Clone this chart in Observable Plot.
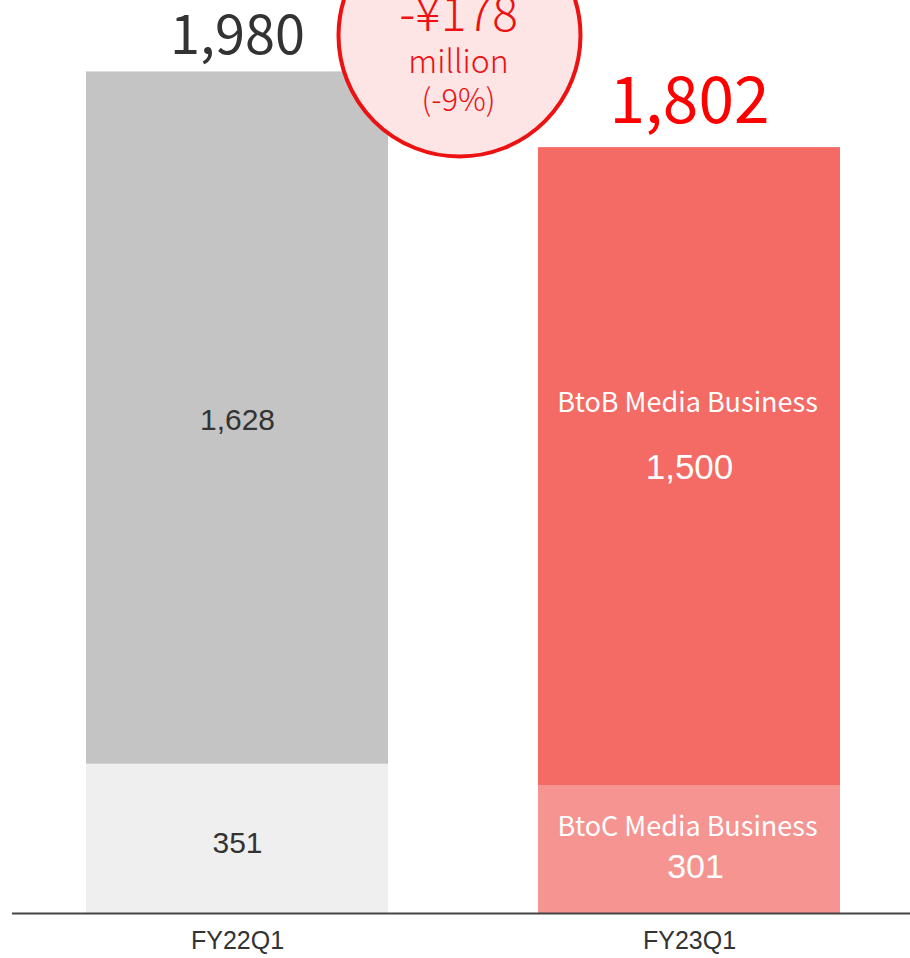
<!DOCTYPE html>
<html>
<head>
<meta charset="utf-8">
<script src="https://cdn.jsdelivr.net/npm/d3@7"></script>
<script src="https://cdn.jsdelivr.net/npm/@observablehq/plot@0.6"></script>
<style>
  html, body { margin: 0; padding: 0; background: #fff; }
  #chart svg { display: block; }
</style>
</head>
<body>
<div id="chart"></div>
<script>
// ---- data ----
const periods = ["FY22Q1", "FY23Q1"];
const segments = ["BtoC Media Business", "BtoB Media Business"];
const btocValues = [351, 301];
const btobValues = [1628, 1500];
const totals = [1980, 1802];
const totalLabels = ["1,980", "1,802"];
const btocLabels = ["351", "301"];
const btobLabels = ["1,628", "1,500"];
const changeLines = ["-¥178", "million", "(-9%)"];

// ---- styles ----
const fillFor = {
  "FY22Q1|BtoC Media Business": "#efefef",
  "FY22Q1|BtoB Media Business": "#c4c4c4",
  "FY23Q1|BtoC Media Business": "#f69491",
  "FY23Q1|BtoB Media Business": "#f46a64"
};
const JP = "'Noto Sans CJK JP', 'Noto Sans', sans-serif";
const ARIAL = "'Liberation Sans', Arial, sans-serif";

// ---- derived table ----
const rows = [];
periods.forEach((p, i) => {
  rows.push({period: p, segment: segments[0], y1: 0, y2: btocValues[i], label: btocLabels[i]});
  rows.push({period: p, segment: segments[1], y1: btocValues[i], y2: btocValues[i] + btobValues[i], label: btobLabels[i]});
});
rows.forEach(r => { r.mid = (r.y1 + r.y2) / 2; r.key = r.period + "|" + r.segment; });
const totRows = periods.map((p, i) => ({period: p, total: totals[i], label: totalLabels[i]}));

const oldB = rows.filter(r => r.period === periods[0] && r.segment === segments[1]);
const oldC = rows.filter(r => r.period === periods[0] && r.segment === segments[0]);
const curB = rows.filter(r => r.period === periods[1] && r.segment === segments[1]);
const curC = rows.filter(r => r.period === periods[1] && r.segment === segments[0]);

const chart = Plot.plot({
  width: 910,
  height: 958,
  marginLeft: 12,
  marginRight: 0,
  marginTop: 0,
  marginBottom: 0,
  x: {domain: periods, range: [86, 840], paddingInner: 0.332, paddingOuter: 0, axis: null},
  y: {domain: [0, 1980], range: [913, 71], axis: null},
  marks: [
    Plot.barY(rows, {x: "period", y1: "y1", y2: "y2", fill: d => fillFor[d.key], inset: 0}),
    Plot.ruleY([0], {stroke: "#444", strokeWidth: 2}),
    // category labels under the baseline
    Plot.text(periods, {x: d => d, y: () => 0, text: d => d, dy: 27, fill: "#333", fontSize: 25,
      fontFamily: "'Liberation Sans Narrow', 'Arial Narrow', " + ARIAL}),
    // FY22 inner labels
    Plot.text(oldB, {x: "period", y: "mid", text: "label", fill: "#333", fontSize: 30, fontFamily: ARIAL, dy: 2}),
    Plot.text(oldC, {x: "period", y: "mid", text: "label", fill: "#333", fontSize: 30, fontFamily: ARIAL, dy: 5}),
    // FY23 values
    Plot.text(curB, {x: "period", y: "mid", text: "label", fill: "#fff", fontSize: 35, fontFamily: ARIAL, dy: 1}),
    Plot.text(curB, {x: "period", y: "mid", text: "segment", fill: "#fff", fontSize: 27, fontFamily: JP, dy: -63, dx: -2}),
    Plot.text(curC, {x: "period", y: "mid", text: "label", fill: "#fff", fontSize: 34, fontFamily: ARIAL, dy: 18, dx: 6}),
    Plot.text(curC, {x: "period", y: "mid", text: "segment", fill: "#fff", fontSize: 27, fontFamily: JP, dy: -22, dx: -2}),
    // totals
    Plot.text(totRows.filter(d => d.period === periods[0]), {x: "period", y: "total", text: "label", fill: "#333", fontSize: 54, fontFamily: JP, dy: -35}),
    Plot.text(totRows.filter(d => d.period === periods[1]), {x: "period", y: "total", text: "label", fill: "#ff0000", fontSize: 64, fontFamily: JP, dy: -45}),
    // change bubble
    Plot.dot([totRows[0]], {x: "period", y: "total", dx: 222, dy: -36, r: 121, fill: "#fde5e5", stroke: "#ee1111", strokeWidth: 4}),
    Plot.text([totRows[0]], {x: "period", y: "total", text: () => changeLines[0], dx: 221, dy: -56, fill: "#ee1111", fontSize: 48, fontFamily: JP, fontWeight: 300}),
    Plot.text([totRows[0]], {x: "period", y: "total", text: () => changeLines[1], dx: 221, dy: -9, fill: "#ee1111", fontSize: 32, fontFamily: JP, fontWeight: 300}),
    Plot.text([totRows[0]], {x: "period", y: "total", text: () => changeLines[2], dx: 221, dy: 30, fill: "#ee1111", fontSize: 31, fontFamily: JP, fontWeight: 300})
  ]
});
document.getElementById("chart").append(chart);
</script>
</body>
</html>
